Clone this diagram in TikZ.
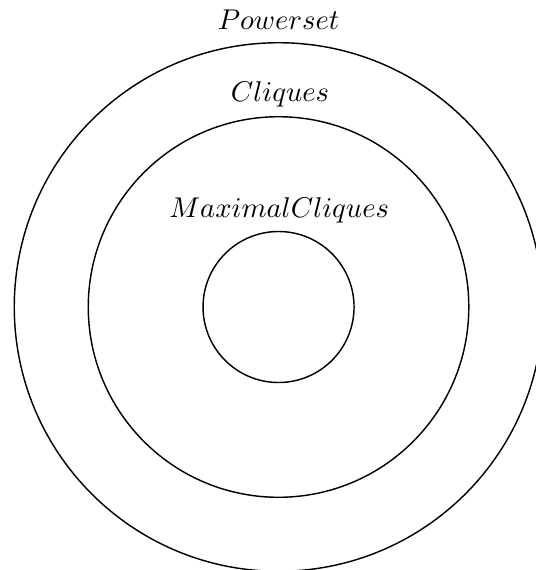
\documentclass[tikz,border=0pt]{standalone}
\usepackage{amsmath, amssymb}
\usepackage{tikz}
\usetikzlibrary{positioning}

\tikzset{
    setlabel/.style={font=\normalsize, inner sep=1pt},
    setring/.style={draw=black, line width=0.5pt}
}

\begin{document}
\begin{tikzpicture}[x=0.928cm, y=0.928cm]
            \useasboundingbox (-3.689, -3.483) rectangle (3.397, 4.066);
            \coordinate (c) at (0, 0);
            % the three sets, one inside the other
            \draw[setring] (c) circle (3.5);
            \draw[setring] (c) circle (2.52);
            \draw[setring] (c) circle (1);
            \node[setlabel] (power) at (0, 3.80) {$Powerset$};
            \node[setlabel] (cliq) at (0.02, 2.81) {$Cliques$};
            \node[setlabel] (maxcliq) at (0.01, 1.28) {$MaximalCliques$};
        \end{tikzpicture}
\end{document}
